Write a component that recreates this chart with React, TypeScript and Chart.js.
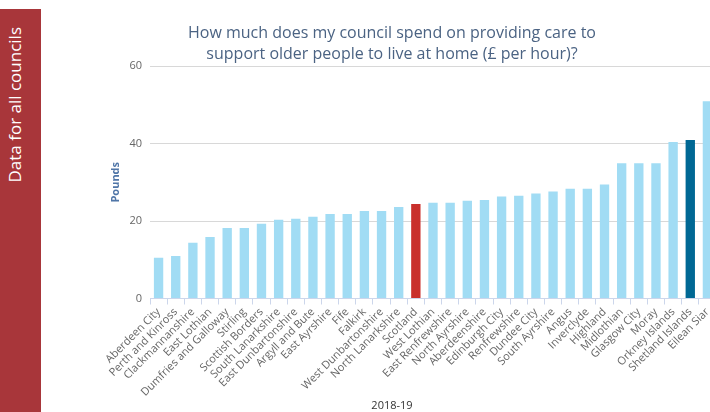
import React, { useEffect, useRef } from "react";
import { Chart, registerables } from "chart.js";

Chart.register(...registerables);

const categories = [
  "Aberdeen City", "Perth and Kinross", "Clackmannanshire", "East Lothian",
  "Dumfries and Galloway", "Stirling", "Scottish Borders", "South Lanarkshire",
  "East Dunbartonshire", "Argyll and Bute", "East Ayrshire", "Fife", "Falkirk",
  "West Dunbartonshire", "North Lanarkshire", "Scotland", "West Lothian",
  "East Renfrewshire", "North Ayrshire", "Aberdeenshire", "Edinburgh City",
  "Renfrewshire", "Dundee City", "South Ayrshire", "Angus", "Inverclyde",
  "Highland", "Midlothian", "Glasgow City", "Moray", "Orkney Islands",
  "Shetland Islands", "Eilean Siar",
];

const values2018 = [
  10.5, 11.0, 14.4, 15.9, 18.2, 18.2, 19.3, 20.3, 20.6, 21.1, 21.8, 21.8, 22.6,
  22.6, 23.6, 24.4, 24.7, 24.7, 25.2, 25.4, 26.3, 26.5, 27.1, 27.6, 28.3, 28.3,
  29.4, 34.9, 34.9, 34.9, 40.4, 40.9, 50.9,
];

const yTicks = [0, 20, 40, 60];

const highlightScotland = "Scotland";
const highlightCouncil = "Shetland Islands";

const BAR = "#a1dcf4";
const RED = "#c9302c";
const DARK = "#006894";

export default function App() {
  const ref = useRef<HTMLCanvasElement | null>(null);

  useEffect(() => {
    document.body.style.margin = "0";
    if (!ref.current) return;
    const colors = categories.map((c) =>
      c === highlightScotland ? RED : c === highlightCouncil ? DARK : BAR
    );
    const chart = new Chart(ref.current, {
      type: "bar",
      data: {
        labels: categories,
        datasets: [
          {
            label: "2018-19",
            data: values2018,
            backgroundColor: colors,
            borderWidth: 0,
            barPercentage: 0.545,
            categoryPercentage: 1,
          },
        ],
      },
      options: {
        animation: false,
        responsive: false,
        maintainAspectRatio: false,
        devicePixelRatio: 1,
        layout: { padding: { left: 101, right: 20, top: 66, bottom: 0 } },
        plugins: {
          legend: { display: false },
          tooltip: { enabled: false },
          title: { display: false },
        },
        scales: {
          x: {
            offset: true,
            grid: {
              drawOnChartArea: false,
              drawTicks: true,
              tickLength: 6,
              color: "#ccd6eb",
              offset: true,
            },
            border: { display: true, color: "#ccd6eb" },
            ticks: {
              autoSkip: false,
              minRotation: 45,
              maxRotation: 45,
              padding: 1,
              color: "#666666",
              font: { family: "'Open Sans'", size: 11 },
            },
            afterFit: (scale: any) => {
              scale.height = 113.5;
            },
          },
          y: {
            min: 0,
            max: 60,
            afterBuildTicks: (scale: any) => {
              scale.ticks = yTicks.map((v) => ({ value: v }));
            },
            grid: { color: "#d8d8d8", drawTicks: false, lineWidth: 1 },
            border: { display: false },
            ticks: {
              padding: 8,
              color: "#666666",
              font: { family: "'Open Sans'", size: 11 },
            },
            title: {
              display: true,
              text: "Pounds",
              color: "#5076a8",
              padding: { top: 8, bottom: 0 },
              font: { family: "'Open Sans'", size: 11, weight: "bold" },
            },
            afterFit: (scale: any) => {
              scale.width = 49;
            },
          },
        },
      },
    });
    return () => chart.destroy();
  }, []);

  return (
    <div
      style={{
        position: "fixed",
        left: 0,
        top: 0,
        width: 710,
        height: 412,
        overflow: "hidden",
        background: "#ffffff",
        fontFamily: "'Open Sans', sans-serif",
      }}
    >
      <canvas
        ref={ref}
        width={736}
        height={412}
        style={{ position: "absolute", left: 0, top: 0, width: 736, height: 412 }}
      />
      <div
        style={{
          position: "absolute",
          left: 0,
          top: 9,
          width: 41,
          height: 403,
          background: "#a8363a",
        }}
      >
        <div
          style={{
            position: "absolute",
            left: 4,
            top: 18,
            width: 21,
            lineHeight: "21px",
            writingMode: "vertical-rl",
            transform: "rotate(180deg)",
            color: "#ffffff",
            fontSize: 17,
            whiteSpace: "nowrap",
          }}
        >
          Data for all councils
        </div>
      </div>
      <div
        style={{
          position: "absolute",
          left: 92,
          top: 22,
          width: 600,
          textAlign: "center",
          color: "#4b6383",
          fontSize: 16,
          lineHeight: "21px",
        }}
      >
        How much does my council spend on providing care to
        <br />
        support older people to live at home (£ per hour)?
      </div>
      <div
        style={{
          position: "absolute",
          left: 342,
          top: 398,
          width: 100,
          textAlign: "center",
          color: "#333333",
          fontSize: 11,
          lineHeight: "14px",
        }}
      >
        2018-19
      </div>
    </div>
  );
}
